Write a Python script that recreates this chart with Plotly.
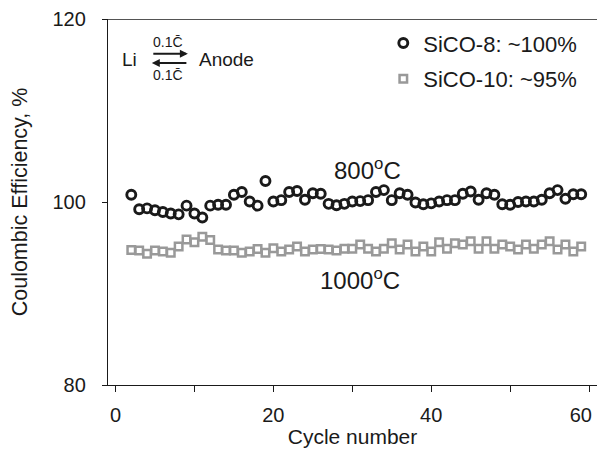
import plotly.graph_objects as go

cycles = list(range(2, 60))
sico8 = [100.8, 99.2, 99.3, 99.1, 98.9, 98.75, 98.65, 99.6, 98.75, 98.3,
         99.6, 99.7, 99.7, 100.8, 101.1, 100.05, 99.6, 102.3, 100.05, 100.2,
         101.1, 101.2, 100.25, 100.95, 100.9, 99.8, 99.65, 99.8, 100.05, 100.1,
         100.2, 101.1, 101.3, 100.2, 100.95, 100.8, 99.95, 99.75, 99.85, 100.05,
         100.2, 100.2, 100.9, 101.15, 100.25, 100.95, 100.8, 99.75, 99.7, 100.0,
         100.05, 100.05, 100.25, 100.95, 101.3, 100.35, 100.85, 100.85]
sico10 = [94.75, 94.7, 94.35, 94.7, 94.6, 94.45, 95.15, 95.9, 95.6, 96.2,
          95.85, 94.8, 94.7, 94.7, 94.45, 94.6, 94.85, 94.45, 94.95, 94.6,
          94.8, 95.15, 94.6, 94.8, 94.85, 94.8, 94.7, 94.9, 94.9, 95.35,
          94.9, 94.6, 94.9, 95.5, 94.8, 95.35, 94.6, 95.15, 94.6, 95.6,
          94.9, 95.5, 95.35, 95.7, 94.9, 95.7, 94.9, 95.35, 95.15, 94.8,
          95.35, 94.9, 95.35, 95.7, 94.8, 95.35, 94.6, 95.15]
x_ticks = [0, 10, 20, 30, 40, 50, 60]
x_ticklabels = ["0", "", "20", "", "40", "", "60\u00a0\u00a0\u00a0"]
y_ticks = [80, 100, 120]

FONT = "Liberation Sans, Arial, sans-serif"
INK = "#1a1a1a"
fig = go.Figure()
fig.add_trace(go.Scatter(
    x=cycles, y=sico8, mode="markers", name="SiCO-8: ~100%", legend="legend",
    marker=dict(symbol="circle-open", size=9, color=INK,
                line=dict(width=2.9, color=INK))))
fig.add_trace(go.Scatter(
    x=cycles, y=sico10, mode="markers", name="SiCO-10: ~95%", legend="legend2",
    marker=dict(symbol="square-open", size=7.5, color="#999999",
                line=dict(width=2.5, color="#999999"))))

leg_font = dict(size=22, family=FONT, color=INK)
fig.update_layout(
    width=600, height=450,
    margin=dict(l=100, r=0, t=9, b=73),
    paper_bgcolor="white", plot_bgcolor="white",
    font=dict(family=FONT, size=20, color=INK),
    showlegend=True,
    legend=dict(x=0.563, y=0.934, xanchor="left", yanchor="middle",
                font=leg_font, bgcolor="rgba(0,0,0,0)", borderwidth=0),
    legend2=dict(x=0.563, y=0.836, xanchor="left", yanchor="middle",
                 font=leg_font, bgcolor="rgba(0,0,0,0)", borderwidth=0),
    xaxis=dict(range=[-0.95, 61.0], tickmode="array", tickvals=x_ticks,
               ticktext=x_ticklabels, ticks="outside", ticklen=6,
               tickcolor=INK, showline=True, linecolor=INK,
               linewidth=1.3, showgrid=False, zeroline=False,
               ticklabelstandoff=6, ticklabeloverflow="allow",
               title=dict(text="Cycle number", font=dict(size=21), standoff=4)),
    yaxis=dict(range=[80, 120], tickvals=y_ticks, ticks="outside", ticklen=5,
               tickcolor=INK, showline=True, linecolor=INK,
               linewidth=1.3, showgrid=False, zeroline=False,
               ticklabelstandoff=12, ticklabeloverflow="allow",
               title=dict(text="Coulombic Efficiency, %", font=dict(size=21.5),
                          standoff=22)),
)

# top frame line of the plot area
fig.add_shape(type="line", xref="paper", x0=0, x1=1, yref="y", y0=120, y1=120,
              line=dict(color=INK, width=1.3), layer="above")

ann_font = dict(family=FONT, size=24, color=INK)
fig.add_annotation(x=31.9, y=103.66, text="800<sup>o</sup>C", showarrow=False,
                   font=ann_font)
fig.add_annotation(x=31.0, y=91.6, text="1000<sup>o</sup>C", showarrow=False,
                   font=ann_font)

small = dict(family=FONT, size=19, color=INK)
tiny = dict(family=FONT, size=14, color=INK)
fig.add_annotation(x=1.82, y=115.62, text="Li", showarrow=False, font=small)
fig.add_annotation(x=14.0, y=115.62, text="Anode", showarrow=False, font=small)
fig.add_annotation(x=6.6, y=117.47, text="0.1C\u0304", showarrow=False, font=tiny)
fig.add_annotation(x=6.6, y=113.9, text="0.1C\u0304", showarrow=False, font=tiny)
fig.add_annotation(x=9.17, y=116.2, ax=4.6, ay=116.2, axref="x", ayref="y",
                   xref="x", yref="y", text="", showarrow=True,
                   arrowhead=2, arrowsize=0.8, arrowwidth=2, arrowcolor=INK)
fig.add_annotation(x=4.6, y=115.2, ax=9.17, ay=115.2, axref="x", ayref="y",
                   xref="x", yref="y", text="", showarrow=True,
                   arrowhead=2, arrowsize=0.8, arrowwidth=2, arrowcolor=INK)

fig.write_html("out.html")
